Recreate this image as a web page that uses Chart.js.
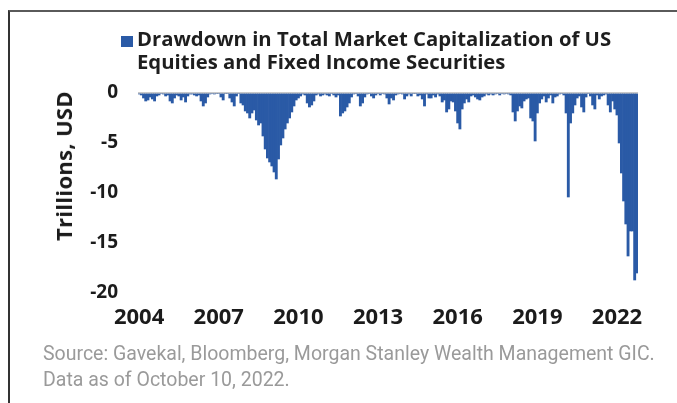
<!DOCTYPE html>
<html>
<head>
<meta charset="utf-8">
<script src="https://cdn.jsdelivr.net/npm/chart.js@4.4.1/dist/chart.umd.min.js"></script>
<style>
  html, body { margin: 0; padding: 0; background: #fff; }
  #wrap { position: relative; width: 677px; height: 403px; overflow: hidden; }
  #frame { position: absolute; left: 8px; top: 10px; width: 680px; height: 400px;
           border-top: 2px solid #5a5a5a; border-left: 2px solid #333; }
  #chart { position: absolute; left: 0; top: 0; }
  .title { position: absolute; left: 137px; font: bold 20.3px "Open Sans", sans-serif; color: #1e1e1e;
           line-height: 23px; white-space: nowrap; }
  #swatch { position: absolute; left: 121px; top: 36px; width: 12px; height: 11px; background: #2a5aa6; }
  #source { position: absolute; left: 43px; top: 341px; font: 19.5px Roboto, sans-serif; color: #9a9a9a;
            line-height: 26px; white-space: nowrap; }
  #ytitle { position: absolute; left: 63px; top: 166px; transform: translate(-50%, -50%) rotate(-90deg);
            font: bold 22px "Open Sans", sans-serif; color: #1b1b1b; white-space: nowrap; letter-spacing: 0.3px; }
</style>
</head>
<body>
<div id="wrap">
  <div id="frame"></div>
  <canvas id="chart" width="677" height="403"></canvas>
  <div id="swatch"></div>
  <div class="title" style="top:27px">Drawdown in Total Market Capitalization of US<br>Equities and Fixed Income Securities</div>
  <div id="ytitle">Trillions, USD</div>
  <div id="source">Source: Gavekal, Bloomberg, Morgan Stanley Wealth Management GIC.<br>Data as of October 10, 2022.</div>
</div>
<script>
// monthly drawdown, trillions USD, Jan 2004 .. Oct 2022
const dd2004 = [-0.1, -0.2, -0.5, -0.8, -0.7, -0.4, -0.6, -0.8, -0.3, -0.2, 0, -0.1];
const dd2005 = [-0.3, -0.2, -0.8, -1.0, -0.5, -0.2, -0.3, -0.7, -0.4, -0.9, -0.3, -0.1];
const dd2006 = [-0.1, -0.2, -0.3, -0.2, -0.8, -1.3, -1.0, -0.4, -0.1, 0, -0.1, 0];
const dd2007 = [0, -0.4, -0.7, 0, 0, -0.5, -0.9, -1.3, -0.3, 0, -1.0, -1.2];
const dd2008 = [-1.8, -2.0, -2.5, -2.0, -1.7, -2.7, -3.2, -3.0, -4.3, -5.6, -6.5, -6.9];
const dd2009 = [-7.3, -7.9, -8.6, -6.6, -5.2, -4.5, -3.6, -3.0, -2.5, -1.9, -1.3, -0.7];
const dd2010 = [-0.5, -0.3, -0.1, -0.2, -1.0, -1.4, -1.2, -0.8, -0.2, -0.1, -0.3, -0.2];
const dd2011 = [-0.1, -0.2, -0.3, 0, -0.2, -0.4, -0.2, -2.3, -2.0, -1.8, -1.4, -1.0];
const dd2012 = [-0.4, -0.1, 0, -0.3, -1.3, -1.0, -0.4, -0.1, 0, -0.3, -0.5, -0.2];
const dd2013 = [0, -0.2, 0, -0.1, -0.5, -1.1, -0.5, -0.7, -0.2, -0.1, 0, -0.1];
const dd2014 = [-0.6, -0.3, -0.1, -0.3, 0, 0, -0.3, -0.2, -0.6, -1.3, -0.1, -0.5];
const dd2015 = [-0.5, -0.2, -0.4, -0.1, -0.3, -0.9, -0.7, -1.9, -1.6, -0.8, -0.9, -1.8];
const dd2016 = [-3.0, -3.6, -1.6, -1.0, -0.6, -0.9, -0.3, -0.2, -0.4, -0.6, -0.7, -0.4];
const dd2017 = [-0.3, -0.1, -0.2, -0.1, -0.2, -0.1, 0, -0.2, 0, -0.1, 0, -0.1];
const dd2018 = [-0.2, -1.9, -2.8, -1.8, -1.3, -1.5, -0.8, -0.6, -0.5, -2.5, -2.8, -4.8];
const dd2019 = [-2.0, -1.0, -0.6, -0.3, -0.9, -0.5, -0.2, -1.0, -0.4, -0.3, -0.1, 0];
const dd2020 = [-0.2, -2.0, -10.4, -3.0, -2.0, -1.2, -0.5, -0.3, -1.4, -1.9, -0.4, 0];
const dd2021 = [-0.3, -1.2, -1.6, -0.2, -0.6, -0.3, -0.2, -0.1, -1.2, -1.9, -0.8, -1.6];
const dd2022 = [-2.2, -5.0, -8.0, -10.8, -13.1, -16.3, -13.8, -13.8, -18.7, -18.0];

const years = [2004, 2005, 2006, 2007, 2008, 2009, 2010, 2011, 2012, 2013,
               2014, 2015, 2016, 2017, 2018, 2019, 2020, 2021, 2022];
const byYear = [dd2004, dd2005, dd2006, dd2007, dd2008, dd2009, dd2010, dd2011, dd2012, dd2013,
                dd2014, dd2015, dd2016, dd2017, dd2018, dd2019, dd2020, dd2021, dd2022];
const tickYears = [2004, 2007, 2010, 2013, 2016, 2019, 2022];
const yTicks = [0, -5, -10, -15, -20];

const labels = [];
const values = [];
byYear.forEach((arr, k) => {
  arr.forEach((v, m) => {
    labels.push(years[k] + '-' + String(m + 1).padStart(2, '0'));
    values.push(v);
  });
});

const BLUE = '#2a5aa6';
const INK = '#1b1b1b';

new Chart(document.getElementById('chart'), {
  type: 'bar',
  data: {
    labels,
    datasets: [{
      data: values,
      backgroundColor: BLUE,
      borderWidth: 0,
      barPercentage: 1,
      categoryPercentage: 1,
    }]
  },
  options: {
    responsive: false,
    animation: false,
    devicePixelRatio: 1,
    layout: { padding: { left: 0, right: 39, top: 93, bottom: 70 } },
    plugins: { legend: { display: false }, tooltip: { enabled: false } },
    scales: {
      x: {
        grid: { display: false, drawTicks: false },
        border: { display: false },
        afterFit: s => { s.height = 40; },
        ticks: {
          autoSkip: false,
          maxRotation: 0,
          padding: 12,
          color: INK,
          font: { family: 'Open Sans', weight: 'bold', size: 22 },
          callback: (v, i) => {
            const [y, m] = labels[i].split('-');
            return m === '01' && tickYears.includes(+y) ? y : '';
          }
        }
      },
      y: {
        min: -20,
        max: 0,
        afterFit: s => { s.width = 138; },
        afterBuildTicks: s => { s.ticks = yTicks.map(v => ({ value: v })); },
        grid: {
          drawTicks: false,
          color: c => (c.tick && c.tick.value === 0 ? '#c9c9c9' : 'rgba(0,0,0,0)'),
          lineWidth: 2,
        },
        border: { display: false },
        ticks: {
          padding: 20,
          color: INK,
          font: { family: 'Open Sans', weight: 'bold', size: 19 },
        }
      }
    }
  }
});
</script>
</body>
</html>
